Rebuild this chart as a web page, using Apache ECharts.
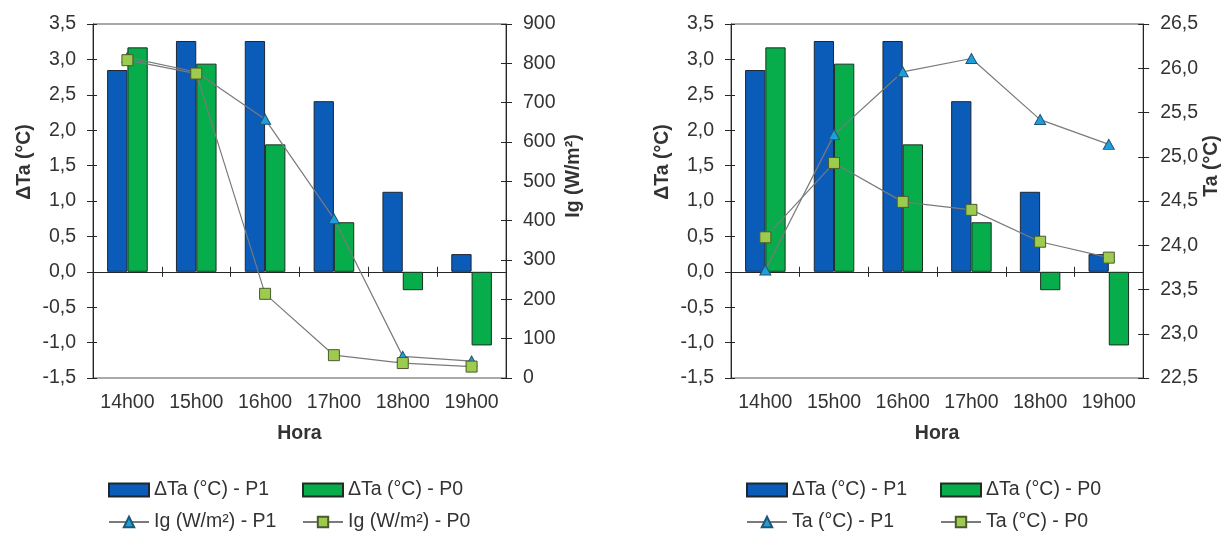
<!DOCTYPE html>
<html>
<head>
<meta charset="utf-8">
<title>ΔTa / Ig / Ta por hora</title>
<script src="https://cdn.jsdelivr.net/npm/echarts@6/dist/echarts.min.js"></script>
<style>
html,body{margin:0;padding:0;background:#fff;}
#chart{width:1223px;height:535px;}
</style>
</head>
<body>
<div id="chart"></div>
<script>
// dados
var horas = ["14h00", "15h00", "16h00", "17h00", "18h00", "19h00"];
var dTaP1 = [2.85, 3.26, 3.26, 2.41, 1.13, 0.25];
var dTaP0 = [3.17, 2.94, 1.80, 0.70, -0.26, -1.04];
var igP1 = [815, 778, 658, 405, 55, 43];
var igP0 = [808, 774, 214, 58, 38, 29];
var taP1 = [23.72, 25.25, 25.96, 26.11, 25.42, 25.14];
var taP0 = [24.09, 24.93, 24.49, 24.40, 24.04, 23.86];

var FONT = "Liberation Sans, Arial, sans-serif";
var TXT = "#333";
var AXIS = "#262626";
var BLUE = "#0b5cb8";
var GREEN = "#08ad4b";

function comma(v) {
    return v.toFixed(1).replace(".", ",");
}
function inteiro(v) {
    return String(Math.round(v));
}
function txt(extra) {
    var s = {fontSize: 19.5, color: TXT, fontFamily: FONT};
    for (var k in extra) s[k] = extra[k];
    return s;
}

/**
 * eixos e series de um painel
 */
function painel(opt, g, cfg) {
    var xi = 3 * g, yi = 4 * g;
    opt.grid.push({left: cfg.left, top: 24, width: 413, height: 354,
        show: true, borderColor: "#555", borderWidth: 1, backgroundColor: "transparent"});

    // rotulos em baixo
    opt.xAxis.push({gridIndex: g, type: "category", data: horas, position: "bottom",
        axisLine: {show: false, onZero: false}, axisTick: {show: false},
        axisLabel: txt({margin: 15, interval: 0}),
        name: "Hora", nameLocation: "middle", nameGap: 46,
        nameTextStyle: txt({fontWeight: "bold"})});
    // linha do zero, tracos para baixo
    opt.xAxis.push({gridIndex: g, type: "category", data: horas, position: "bottom",
        axisLine: {show: true, onZero: true, onZeroAxisIndex: yi, lineStyle: {color: AXIS, width: 1}},
        axisTick: {show: true, length: 5, lineStyle: {color: AXIS}},
        axisLabel: {show: false}});
    // tracos para cima
    opt.xAxis.push({gridIndex: g, type: "category", data: horas, position: "top",
        axisLine: {show: true, onZero: true, onZeroAxisIndex: yi, lineStyle: {color: AXIS, width: 1}},
        axisTick: {show: true, length: 5, lineStyle: {color: AXIS}},
        axisLabel: {show: false}});

    opt.yAxis.push({gridIndex: g, type: "value", position: "left", min: -1.5, max: 3.5, interval: 0.5,
        axisLine: {show: true, onZero: false, lineStyle: {color: AXIS}},
        axisTick: {show: true, length: 6, lineStyle: {color: AXIS}},
        splitLine: {show: false},
        axisLabel: txt({formatter: comma, margin: 17}),
        name: "ΔTa (°C)", nameLocation: "middle", nameGap: 58,
        nameTextStyle: txt({fontWeight: "bold", padding: [0, 0, 0, 78]})});
    opt.yAxis.push({gridIndex: g, type: "value", position: "left", min: -1.5, max: 3.5, interval: 0.5,
        axisLine: {show: false, onZero: false},
        axisTick: {show: true, inside: true, length: 4, lineStyle: {color: AXIS}},
        splitLine: {show: false}, axisLabel: {show: false}});
    opt.yAxis.push({gridIndex: g, type: "value", position: "right",
        min: cfg.min, max: cfg.max, interval: cfg.interval,
        axisLine: {show: true, onZero: false, lineStyle: {color: AXIS}},
        axisTick: {show: true, length: 6, lineStyle: {color: AXIS}},
        splitLine: {show: false},
        axisLabel: txt({formatter: cfg.fmt, margin: 17}),
        name: cfg.name, nameLocation: "middle", nameGap: 58,
        nameTextStyle: txt({fontWeight: "bold", padding: [0, 0, 0, cfg.pad]})});
    opt.yAxis.push({gridIndex: g, type: "value", position: "right",
        min: cfg.min, max: cfg.max, interval: cfg.interval,
        axisLine: {show: false, onZero: false},
        axisTick: {show: true, inside: true, length: 5, lineStyle: {color: AXIS}},
        splitLine: {show: false}, axisLabel: {show: false}});

    opt.series.push({name: "ΔTa (°C) - P1", type: "bar", xAxisIndex: xi, yAxisIndex: yi,
        data: dTaP1, barGap: "0%", barCategoryGap: "41%",
        itemStyle: {color: BLUE, borderColor: "#1d2733", borderWidth: 1}});
    opt.series.push({name: "ΔTa (°C) - P0", type: "bar", xAxisIndex: xi, yAxisIndex: yi,
        data: dTaP0, barGap: "0%", barCategoryGap: "41%",
        itemStyle: {color: GREEN, borderColor: "#1d2f22", borderWidth: 1}});
    opt.series.push({name: cfg.lineP1, type: "line", xAxisIndex: xi, yAxisIndex: yi + 2,
        data: cfg.p1, symbol: "triangle", symbolSize: [11, 10],
        lineStyle: {color: "#7a7a7a", width: 1.2},
        itemStyle: {color: "#1e9fdc", borderColor: "#1f5676", borderWidth: 1}});
    opt.series.push({name: cfg.lineP0, type: "line", xAxisIndex: xi, yAxisIndex: yi + 2,
        data: cfg.p0, symbol: "rect", symbolSize: 11,
        lineStyle: {color: "#7a7a7a", width: 1.2},
        itemStyle: {color: "#9ccb4e", borderColor: "#4a5a2e", borderWidth: 1}});

    var x1 = cfg.left + 15, x2 = cfg.left + 209;
    opt.legend.push(legenda("ΔTa (°C) - P1", x1, 480, "rect"));
    opt.legend.push(legenda("ΔTa (°C) - P0", x2, 480, "rect"));
    opt.legend.push(legenda(cfg.lineP1, x1, 512));
    opt.legend.push(legenda(cfg.lineP0, x2, 512));
}

function legenda(nome, left, top, icone) {
    var l = {data: [nome], left: left, top: top, padding: 0, itemWidth: 40, itemHeight: 13,
        itemGap: 0, selectedMode: false, textStyle: txt({})};
    if (icone) l.icon = icone;
    return l;
}

var option = {
    animation: false,
    backgroundColor: "#fff",
    textStyle: {fontFamily: FONT},
    grid: [], xAxis: [], yAxis: [], series: [], legend: []
};

painel(option, 0, {left: 93, name: "Ig (W/m²)", min: 0, max: 900, interval: 100,
    fmt: inteiro, pad: 50, p1: igP1, p0: igP0,
    lineP1: "Ig (W/m²) - P1", lineP0: "Ig (W/m²) - P0"});
painel(option, 1, {left: 731, name: "Ta (°C)", min: 22.5, max: 26.5, interval: 0.5,
    fmt: comma, pad: 70, p1: taP1, p0: taP0,
    lineP1: "Ta (°C) - P1", lineP0: "Ta (°C) - P0"});

var myChart = echarts.init(document.getElementById("chart"));
myChart.setOption(option);
</script>
</body>
</html>
